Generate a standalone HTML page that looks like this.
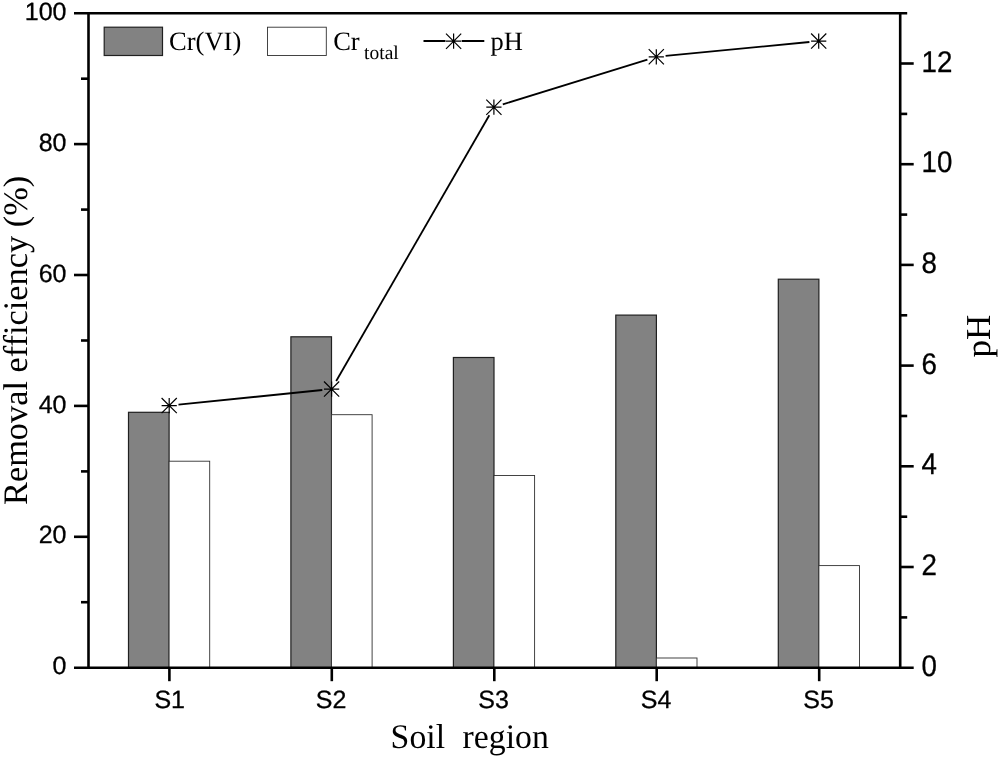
<!DOCTYPE html>
<html lang="en"><head><meta charset="utf-8"><title>Removal efficiency and pH by soil region</title>
<style>html,body{margin:0;padding:0;background:#fff}body{width:1000px;height:758px;overflow:hidden}svg{display:block}text{text-rendering:geometricPrecision}.sans{font-family:"Liberation Sans",Arial,sans-serif;fill:#000;stroke:#000;stroke-width:0.3px}.serif{font-family:"Liberation Serif","Times New Roman",serif;fill:#000}</style></head><body>
<svg width="1000" height="758" viewBox="0 0 1000 758">
<rect x="0" y="0" width="1000" height="758" fill="#fff"/>
<g stroke="#202020" stroke-width="1.2">
<rect x="128.5" y="412.3" width="40.6" height="255.4" fill="#828282"/>
<rect x="290.9" y="336.8" width="40.6" height="330.9" fill="#828282"/>
<rect x="453.4" y="357.5" width="40.6" height="310.2" fill="#828282"/>
<rect x="615.8" y="315.1" width="40.6" height="352.6" fill="#828282"/>
<rect x="778.3" y="279.2" width="40.6" height="388.5" fill="#828282"/>
</g><g stroke="#303030" stroke-width="0.9" fill="#fff">
<rect x="169.1" y="461.2" width="40.6" height="206.5"/>
<rect x="331.5" y="414.7" width="40.6" height="253.0"/>
<rect x="494.0" y="475.5" width="40.6" height="192.2"/>
<rect x="656.4" y="658.0" width="40.6" height="9.7"/>
<rect x="818.9" y="565.6" width="40.6" height="102.1"/>
</g>
<g stroke="#000" stroke-width="2.6" fill="none" stroke-linecap="butt">
<line x1="74.0" y1="13.2" x2="907.2" y2="13.2"/>
<line x1="74.0" y1="667.7" x2="913.7" y2="667.7"/>
<line x1="88.5" y1="13.2" x2="88.5" y2="667.7"/>
<line x1="900.2" y1="13.2" x2="900.2" y2="667.7"/>
<line x1="81.0" y1="602.2" x2="88.5" y2="602.2"/>
<line x1="74.0" y1="536.8" x2="88.5" y2="536.8"/>
<line x1="81.0" y1="471.4" x2="88.5" y2="471.4"/>
<line x1="74.0" y1="405.9" x2="88.5" y2="405.9"/>
<line x1="81.0" y1="340.5" x2="88.5" y2="340.5"/>
<line x1="74.0" y1="275.0" x2="88.5" y2="275.0"/>
<line x1="81.0" y1="209.6" x2="88.5" y2="209.6"/>
<line x1="74.0" y1="144.1" x2="88.5" y2="144.1"/>
<line x1="81.0" y1="78.7" x2="88.5" y2="78.7"/>
<line x1="900.2" y1="617.4" x2="907.2" y2="617.4"/>
<line x1="900.2" y1="567.0" x2="913.7" y2="567.0"/>
<line x1="900.2" y1="516.7" x2="907.2" y2="516.7"/>
<line x1="900.2" y1="466.3" x2="913.7" y2="466.3"/>
<line x1="900.2" y1="416.0" x2="907.2" y2="416.0"/>
<line x1="900.2" y1="365.6" x2="913.7" y2="365.6"/>
<line x1="900.2" y1="315.3" x2="907.2" y2="315.3"/>
<line x1="900.2" y1="264.9" x2="913.7" y2="264.9"/>
<line x1="900.2" y1="214.6" x2="907.2" y2="214.6"/>
<line x1="900.2" y1="164.2" x2="913.7" y2="164.2"/>
<line x1="900.2" y1="113.9" x2="907.2" y2="113.9"/>
<line x1="900.2" y1="63.5" x2="913.7" y2="63.5"/>
<line x1="169.4" y1="667.7" x2="169.4" y2="681.2"/>
<line x1="331.8" y1="667.7" x2="331.8" y2="681.2"/>
<line x1="494.3" y1="667.7" x2="494.3" y2="681.2"/>
<line x1="656.7" y1="667.7" x2="656.7" y2="681.2"/>
<line x1="819.2" y1="667.7" x2="819.2" y2="681.2"/>
</g>
<g stroke="#000" stroke-width="1.8" fill="none">
<line x1="178.5" y1="404.7" x2="322.3" y2="390.0"/>
<line x1="336.2" y1="381.0" x2="489.3" y2="115.3"/>
<line x1="502.8" y1="104.4" x2="647.4" y2="59.6"/>
<line x1="665.6" y1="55.9" x2="809.4" y2="42.0"/>
</g>
<g stroke="#000" stroke-width="1.2" fill="none">
<path d="M161.6 405.6H176.8M169.2 398.0V413.2M161.6 398.0L176.8 413.2M161.6 413.2L176.8 398.0"/>
<path d="M324.0 389.1H339.2M331.6 381.5V396.7M324.0 381.5L339.2 396.7M324.0 396.7L339.2 381.5"/>
<path d="M486.3 107.2H501.5M493.9 99.6V114.8M486.3 99.6L501.5 114.8M486.3 114.8L501.5 99.6"/>
<path d="M648.7 56.8H663.9M656.3 49.2V64.4M648.7 49.2L663.9 64.4M648.7 64.4L663.9 49.2"/>
<path d="M811.1 41.1H826.3M818.7 33.5V48.7M811.1 33.5L826.3 48.7M811.1 48.7L826.3 33.5"/>
<path d="M446.0 41.2H461.2M453.6 33.6V48.8M446.0 33.6L461.2 48.8M446.0 48.8L461.2 33.6"/>
</g>
<rect x="104.2" y="27.2" width="58.3" height="28.3" fill="#828282" stroke="#202020" stroke-width="1.2"/>
<rect x="267.5" y="27.2" width="58.8" height="28.3" fill="#fff" stroke="#303030" stroke-width="0.9"/>
<path d="M423.5 41H445.5M461.7 41H484.3" stroke="#000" stroke-width="2" fill="none"/>
<text class="serif" x="169.1" y="49.7" font-size="26.5">Cr(VI)</text>
<text class="serif" x="333.2" y="49.7" font-size="26.5">Cr<tspan dx="4.4" dy="9.0" font-size="19.5">total</tspan></text>
<text class="serif" x="490.5" y="49.7" font-size="26.5">pH</text>
<text class="sans" x="66.5" y="674.3" font-size="25" text-anchor="end">0</text>
<text class="sans" x="66.5" y="543.4" font-size="25" text-anchor="end">20</text>
<text class="sans" x="66.5" y="412.5" font-size="25" text-anchor="end">40</text>
<text class="sans" x="66.5" y="281.6" font-size="25" text-anchor="end">60</text>
<text class="sans" x="66.5" y="150.7" font-size="25" text-anchor="end">80</text>
<text class="sans" x="66.5" y="19.8" font-size="25" text-anchor="end">100</text>
<text class="sans" transform="translate(921.6 675.7) scale(0.93 1)" font-size="29.8">0</text>
<text class="sans" transform="translate(921.6 575.0) scale(0.93 1)" font-size="29.8">2</text>
<text class="sans" transform="translate(921.6 474.3) scale(0.93 1)" font-size="29.8">4</text>
<text class="sans" transform="translate(921.6 373.6) scale(0.93 1)" font-size="29.8">6</text>
<text class="sans" transform="translate(921.6 272.9) scale(0.93 1)" font-size="29.8">8</text>
<text class="sans" transform="translate(921.6 172.2) scale(0.93 1)" font-size="29.8">10</text>
<text class="sans" transform="translate(921.6 71.5) scale(0.93 1)" font-size="29.8">12</text>
<text class="sans" x="169.7" y="707.8" font-size="25" text-anchor="middle">S1</text>
<text class="sans" x="331.1" y="707.8" font-size="25" text-anchor="middle">S2</text>
<text class="sans" x="493.6" y="707.8" font-size="25" text-anchor="middle">S3</text>
<text class="sans" x="656.0" y="707.8" font-size="25" text-anchor="middle">S4</text>
<text class="sans" x="818.5" y="707.8" font-size="25" text-anchor="middle">S5</text>
<text class="serif" transform="translate(390.6 747.8) scale(0.979 1)" font-size="34.5" word-spacing="0.3" xml:space="preserve" style="white-space:pre">Soil  region</text>
<text class="serif" transform="translate(27.3 340.4) rotate(-90)" font-size="34.35" text-anchor="middle">Removal efficiency (%)</text>
<text class="serif" transform="translate(990 336) rotate(-90)" font-size="35" text-anchor="middle">pH</text>
</svg></body></html>
